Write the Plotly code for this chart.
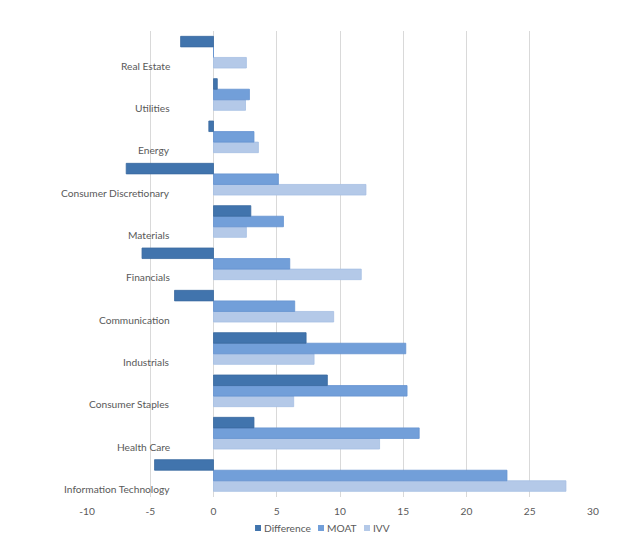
import plotly.graph_objects as go

categories = ["Information Technology", "Health Care", "Consumer Staples", "Industrials",
              "Communication", "Financials", "Materials", "Consumer Discretionary",
              "Energy", "Utilities", "Real Estate"]
difference = [-4.66, 3.2, 9.0, 7.32, -3.08, -5.65, 2.95, -6.9, -0.37, 0.3, -2.6]
moat = [23.2, 16.26, 15.3, 15.2, 6.42, 6.03, 5.53, 5.13, 3.2, 2.84, 0.0]
ivv = [27.86, 13.13, 6.34, 7.95, 9.5, 11.68, 2.6, 12.05, 3.55, 2.53, 2.6]
x_ticks = [-10, -5, 0, 5, 10, 15, 20, 25, 30]
x_tick_text = ["-10", "-5", "0", "5", "10", "15", "20", "25", "30"]
legend_names = ["Difference", "MOAT", "IVV"]

font_family = "Lato, 'Open Sans', sans-serif"
text_color = "#595959"
colors = {"IVV": ("#b4c9e8", "#a6bfe3"),
          "MOAT": ("#729fd9", "#6593d0"),
          "Difference": ("#4174ad", "#3a6aa0")}
values = {"IVV": ivv, "MOAT": moat, "Difference": difference}

fig = go.Figure()
for name in ["IVV", "MOAT", "Difference"]:
    col, edge = colors[name]
    fig.add_trace(go.Bar(y=categories, x=values[name], name=name, orientation="h",
                         showlegend=False,
                         marker=dict(color=col, line=dict(color=edge, width=0.8))))

for c in categories:
    fig.add_annotation(x=-3.26, y=c, xref="x", yref="y", text=c, showarrow=False,
                       xanchor="right", yanchor="middle", yshift=-13.5,
                       font=dict(family=font_family, size=10.2, color=text_color))

# legend (small square keys, compact like the original)
legend_y = -0.0665
legend_key_x = [0.338, 0.4625, 0.5534]
for name, kx in zip(legend_names, legend_key_x):
    col, edge = colors[name]
    fig.add_shape(type="rect", xref="paper", yref="paper",
                  xsizemode="pixel", ysizemode="pixel",
                  xanchor=kx, yanchor=legend_y, x0=-3, x1=3, y0=-3, y1=3,
                  fillcolor=col, line=dict(width=0))
    fig.add_annotation(x=kx, y=legend_y, xref="paper", yref="paper", text=name,
                       showarrow=False, xanchor="left", yanchor="middle", xshift=4,
                       font=dict(family=font_family, size=10.2, color=text_color))

fig.update_layout(
    width=640, height=541,
    margin=dict(l=79, r=55, t=23, b=52, autoexpand=False),
    paper_bgcolor="white", plot_bgcolor="white",
    barmode="group", bargap=0.252, bargroupgap=0,
    font=dict(family=font_family, size=10.2, color=text_color),
    showlegend=False,
    xaxis=dict(range=[-10, 30], tickvals=x_ticks, ticktext=x_tick_text, showgrid=True,
               gridcolor="#d9d9d9", gridwidth=1, zeroline=True, zerolinecolor="#d9d9d9",
               zerolinewidth=1, showline=False, ticks="", ticklabelstandoff=7,
               tickfont=dict(size=10.2, color=text_color)),
    yaxis=dict(type="category", categoryorder="array", categoryarray=categories,
               showticklabels=False, showgrid=False, zeroline=False, showline=False,
               ticks=""),
)

fig.write_html("out.html")
